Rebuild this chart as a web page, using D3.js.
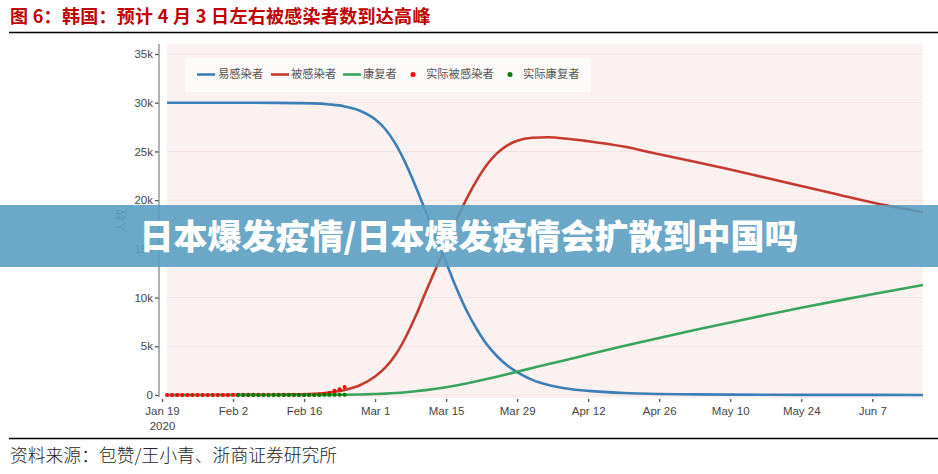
<!DOCTYPE html>
<html><head><meta charset="utf-8">
<script src="https://cdn.jsdelivr.net/npm/d3@7"></script>
<style>
body{margin:0;background:#fff;}
svg{display:block;}
</style></head>
<body>
<svg id="c" width="938" height="474"></svg>
<script>
// ---------------- DATA ----------------
const titleText = "图 6：韩国：预计 4 月 3 日左右被感染者数到达高峰";
const sourceText = "资料来源：包赞/王小青、浙商证券研究所";
const bannerText = "日本爆发疫情/日本爆发疫情会扩散到中国吗";
const yLabel = "人数";
const seriesNames = ["易感染者", "被感染者", "康复者", "实际被感染者", "实际康复者"];

const modelDates = ["2020-01-20","2020-01-27","2020-02-03","2020-02-10","2020-02-14","2020-02-18","2020-02-21","2020-02-24","2020-02-27","2020-03-01","2020-03-03","2020-03-05","2020-03-07","2020-03-09","2020-03-11","2020-03-13","2020-03-15","2020-03-17","2020-03-19","2020-03-21","2020-03-23","2020-03-25","2020-03-27","2020-03-29","2020-04-01","2020-04-04","2020-04-08","2020-04-12","2020-04-19","2020-04-26","2020-05-03","2020-05-10","2020-05-17","2020-05-24","2020-05-31","2020-06-07","2020-06-17"];
const susceptible = [30000,29999,29995,29985,29960,29930,29820,29620,29180,28300,27300,25800,23800,21400,18800,16200,13600,11000,8700,6800,5200,4000,3050,2350,1550,1050,650,420,200,100,60,40,25,18,12,9,6];
const infected    = [2,5,12,30,60,130,260,520,1000,1900,2800,4100,5900,8100,10600,13000,15300,17900,20100,22000,23600,24800,25600,26100,26400,26450,26300,26050,25500,24700,23950,23150,22300,21450,20600,19750,18750];
const recovered   = [0,0,0,1,3,6,12,25,50,100,140,200,280,380,500,640,800,980,1190,1410,1640,1880,2130,2390,2770,3150,3650,4150,5020,5860,6670,7450,8210,8950,9660,10350,11300];

const actualInfDates = ["2020-01-20","2020-01-21","2020-01-22","2020-01-23","2020-01-24","2020-01-25","2020-01-26","2020-01-27","2020-01-28","2020-01-29","2020-01-30","2020-01-31","2020-02-01","2020-02-02","2020-02-03","2020-02-04","2020-02-05","2020-02-06","2020-02-07","2020-02-08","2020-02-09","2020-02-10","2020-02-11","2020-02-12","2020-02-13","2020-02-14","2020-02-15","2020-02-16","2020-02-17","2020-02-18","2020-02-19","2020-02-20","2020-02-21","2020-02-22","2020-02-23","2020-02-24"];
const actualInfected = [1,1,1,1,2,2,3,4,4,4,6,11,12,15,15,16,19,23,24,24,27,27,28,28,28,28,28,29,30,31,51,104,204,433,602,833];
const actualRecDates = ["2020-02-03","2020-02-04","2020-02-05","2020-02-06","2020-02-07","2020-02-08","2020-02-09","2020-02-10","2020-02-11","2020-02-12","2020-02-13","2020-02-14","2020-02-15","2020-02-16","2020-02-17","2020-02-18","2020-02-19","2020-02-20","2020-02-21","2020-02-22","2020-02-23","2020-02-24"];
const actualRecovered = [0,0,1,2,2,2,3,3,4,7,7,7,9,9,10,12,12,16,16,16,18,18];

const xTickDates = ["2020-01-19","2020-02-02","2020-02-16","2020-03-01","2020-03-15","2020-03-29","2020-04-12","2020-04-26","2020-05-10","2020-05-24","2020-06-07"];
const yTicks = [0,5000,10000,15000,20000,25000,30000,35000];

// ---------------- DRAW ----------------
const parse = d3.utcParse("%Y-%m-%d");
const svg = d3.select("#c");
const colBlue = "#3b7fb7", colRed = "#c43a2f", colGreen = "#38a55c";

const x = d3.scaleUtc().domain([parse("2020-01-19"), parse("2020-06-17")]).range([162, 923]);
const y = d3.scaleLinear().domain([0, 35000]).range([395, 54]);

// title
svg.append("text").attr("x", 10).attr("y", 23)
  .attr("font-family", "'Noto Sans CJK SC', sans-serif").attr("font-weight", 700)
  .attr("font-size", 18).attr("letter-spacing", 0.3).attr("fill", "#c00000").text(titleText);
svg.append("line").attr("x1", 9).attr("x2", 938).attr("y1", 32.5).attr("y2", 32.5)
  .attr("stroke", "#000").attr("stroke-width", 1.3);

// plot background
const pL = x(parse("2020-01-20")), pR = x(parse("2020-06-17"));
svg.append("rect").attr("x", pL).attr("y", 44).attr("width", pR - pL).attr("height", 354)
  .attr("fill", "#fcf1f1");

// gridlines
svg.append("g").selectAll("line").data(yTicks).join("line")
  .attr("x1", pL).attr("x2", pR).attr("y1", d => y(d)).attr("y2", d => y(d))
  .attr("stroke", "#f3e2e2").attr("stroke-width", 1);

// y axis
const yAxis = d3.axisLeft(y).tickValues(yTicks).tickFormat(d => d === 0 ? "0" : d3.format("~s")(d)).tickSize(4).tickPadding(2);
const gy = svg.append("g").attr("transform", "translate(159,0)").call(yAxis);
gy.select(".domain").remove();
gy.append("line").attr("x1", 0).attr("x2", 0).attr("y1", 44).attr("y2", 397).attr("stroke", "#888").attr("stroke-width", 1.3);
gy.selectAll(".tick line").attr("stroke", "#555").attr("stroke-width", 1.3);
gy.selectAll(".tick text").attr("font-family", "'Liberation Sans', Arial, sans-serif").attr("font-size", 11.5).attr("fill", "#444");

// x axis
const fmt = d3.utcFormat("%b %-d");
const xAxis = d3.axisBottom(x).tickValues(xTickDates.map(parse)).tickFormat(fmt).tickSize(3).tickPadding(5);
const gx = svg.append("g").attr("transform", "translate(0,399)").call(xAxis);
gx.select(".domain").remove();
gx.selectAll(".tick line").attr("stroke", "#555").attr("stroke-width", 1.3);
gx.selectAll(".tick text").attr("font-family", "'Liberation Sans', Arial, sans-serif").attr("font-size", 11.5).attr("fill", "#444");
gx.select(".tick text").each(function(){
  d3.select(this.parentNode).append("text").attr("y", 23).attr("dy", "0.71em").attr("text-anchor", "middle")
    .attr("font-family", "'Liberation Sans', Arial, sans-serif").attr("font-size", 11.5).attr("fill", "#444").text("2020");
});

// y label
svg.append("text").attr("transform", "translate(126,221) rotate(-90)").attr("text-anchor", "middle")
  .attr("font-family", "'Noto Sans CJK SC', sans-serif").attr("font-size", 12).attr("fill", "#777").text(yLabel);

// model lines
const md = modelDates.map(parse);
const line = d3.line().x(d => x(d[0])).y(d => y(d[1])).curve(d3.curveMonotoneX);
const series = [[susceptible, colBlue], [infected, colRed], [recovered, colGreen]];
svg.append("g").selectAll("path").data(series).join("path")
  .attr("d", s => line(md.map((d, i) => [d, s[0][i]])))
  .attr("fill", "none").attr("stroke", s => s[1]).attr("stroke-width", 2.6);

// actual dots
svg.append("g").selectAll("circle").data(actualInfDates.map((d, i) => [parse(d), actualInfected[i]])).join("circle")
  .attr("cx", d => x(d[0])).attr("cy", d => y(d[1])).attr("r", 2).attr("fill", "#ff0000");
svg.append("g").selectAll("circle").data(actualRecDates.map((d, i) => [parse(d), actualRecovered[i]])).join("circle")
  .attr("cx", d => x(d[0])).attr("cy", d => y(d[1])).attr("r", 2).attr("fill", "#007a00");

// legend
const lg = svg.append("g");
lg.append("rect").attr("x", 185).attr("y", 58).attr("width", 406).attr("height", 34).attr("fill", "#fdfafa");
const legendItems = [
  {t: "line", c: colBlue, x: 197, tx: 218, name: seriesNames[0]},
  {t: "line", c: colRed, x: 271, tx: 291, name: seriesNames[1]},
  {t: "line", c: colGreen, x: 343, tx: 363, name: seriesNames[2]},
  {t: "dot", c: "#ff0000", x: 413, tx: 426, name: seriesNames[3]},
  {t: "dot", c: "#007a00", x: 510, tx: 523, name: seriesNames[4]}
];
legendItems.forEach(it => {
  if (it.t === "line") lg.append("line").attr("x1", it.x).attr("x2", it.x + 18).attr("y1", 74.5).attr("y2", 74.5).attr("stroke", it.c).attr("stroke-width", 2.6);
  else lg.append("circle").attr("cx", it.x).attr("cy", 74.5).attr("r", 2.5).attr("fill", it.c);
  lg.append("text").attr("x", it.tx).attr("y", 74.5).attr("dy", "0.35em")
    .attr("font-family", "'Noto Sans CJK SC', sans-serif").attr("font-size", 11.3).attr("fill", "#555").text(it.name);
});

// bottom rule + source
svg.append("line").attr("x1", 9).attr("x2", 938).attr("y1", 438.5).attr("y2", 438.5).attr("stroke", "#000").attr("stroke-width", 1.3);
svg.append("text").attr("x", 10).attr("y", 462)
  .attr("font-family", "'Noto Sans CJK SC', sans-serif").attr("font-size", 17.8).attr("font-weight", 300).attr("fill", "#222").text(sourceText);

// banner overlay
svg.append("rect").attr("x", 0).attr("y", 205).attr("width", 938).attr("height", 62).attr("fill", "rgba(87,157,194,0.88)");
svg.append("text").attr("x", 469).attr("y", 237).attr("dy", "0.36em").attr("text-anchor", "middle")
  .attr("font-family", "'Noto Sans CJK SC', sans-serif").attr("font-weight", 900).attr("font-size", 34)
  .attr("fill", "#fff").text(bannerText);
</script>
</body></html>
